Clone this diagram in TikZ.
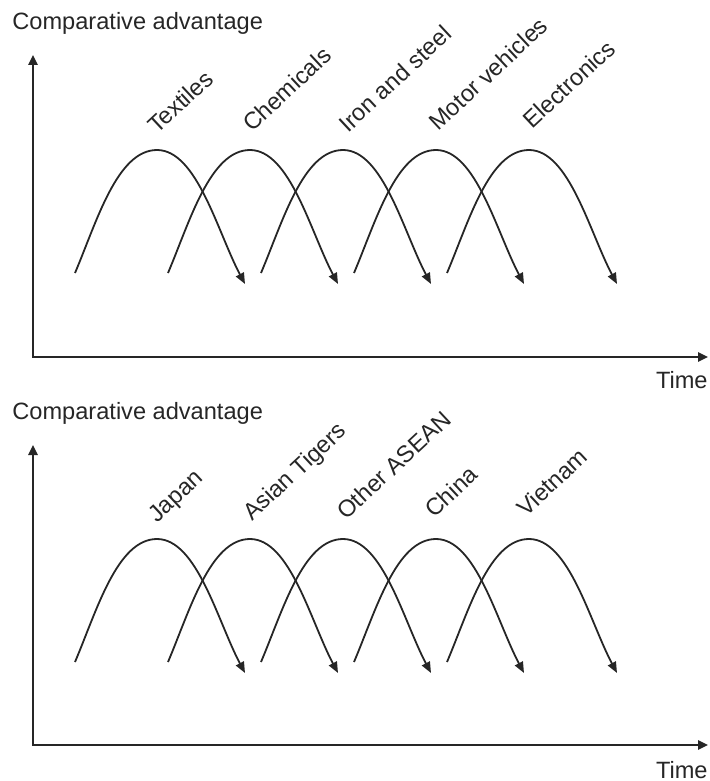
\documentclass[tikz,border=0pt]{standalone}
\usepackage{fontspec}
\setmainfont{Liberation Sans}
\usepackage{tikz}
\usetikzlibrary{arrows.meta, calc, positioning}
\usepackage{xcolor}
\definecolor{inkgray}{HTML}{262626}
\tikzset{>={Triangle[length=5pt,width=4.6pt]}}
\tikzset{
	axis/.style={line width=1pt, inkgray},
	wave/.style={line width=0.9pt, inkgray, -{Triangle[length=5.5pt,width=4.4pt]}},
	sector/.style={rotate=43, anchor=base west, inner sep=0pt, text=inkgray},
	caption/.style={inner sep=0pt, text=inkgray}
}

\begin{document}
\begin{tikzpicture}[x=0.5pt, y=0.5pt, font=\fontsize{11.8}{13}\selectfont]
	\useasboundingbox (0,0) rectangle (709,-781);
	% upper panel: industries
	\node[caption, anchor=base west] (cavtop) at (12,-30) {Comparative advantage};
	\draw [axis, <->] (33,-55) -- (33,-357) -- (708,-357);
	\node[caption, anchor=base east] (timetop) at (708,-388) {Time};
	\draw [wave] (75,-273) .. controls +(67:55) and +(-40,0) .. (157,-150) .. controls +(40,0) and +(118:58) .. (245,-284);
	\draw [wave] (168,-273) .. controls +(67:55) and +(-40,0) .. (250,-150) .. controls +(40,0) and +(118:58) .. (338,-284);
	\draw [wave] (261,-273) .. controls +(67:55) and +(-40,0) .. (343,-150) .. controls +(40,0) and +(118:58) .. (431,-284);
	\draw [wave] (354,-273) .. controls +(67:55) and +(-40,0) .. (436,-150) .. controls +(40,0) and +(118:58) .. (524,-284);
	\draw [wave] (447,-273) .. controls +(67:55) and +(-40,0) .. (529,-150) .. controls +(40,0) and +(118:58) .. (617,-284);
	\node[sector] (textiles) at (157,-135) {Textiles};
	\node[sector] (chemicals) at (252,-133) {Chemicals};
	\node[sector] (ironsteel) at (348,-134) {Iron and steel};
	\node[sector] (motor) at (438,-132) {Motor vehicles};
	\node[sector] (electronics) at (532,-130) {Electronics};
	% lower panel: economies
	\node[caption, anchor=base west] (cavbottom) at (12,-419) {Comparative advantage};
	\draw [axis, <->] (33,-445) -- (33,-745) -- (708,-745);
	\node[caption, anchor=base east] (timebottom) at (708,-778) {Time};
	\draw [wave] (75,-662) .. controls +(67:55) and +(-40,0) .. (157,-539) .. controls +(40,0) and +(118:58) .. (245,-673);
	\draw [wave] (168,-662) .. controls +(67:55) and +(-40,0) .. (250,-539) .. controls +(40,0) and +(118:58) .. (338,-673);
	\draw [wave] (261,-662) .. controls +(67:55) and +(-40,0) .. (343,-539) .. controls +(40,0) and +(118:58) .. (431,-673);
	\draw [wave] (354,-662) .. controls +(67:55) and +(-40,0) .. (436,-539) .. controls +(40,0) and +(118:58) .. (524,-673);
	\draw [wave] (447,-662) .. controls +(67:55) and +(-40,0) .. (529,-539) .. controls +(40,0) and +(118:58) .. (617,-673);
	\node[sector] (japan) at (157,-524) {Japan};
	\node[sector] (tigers) at (252,-522) {Asian Tigers};
	\node[sector] (asean) at (346,-521) {Other ASEAN};
	\node[sector] (china) at (434,-519) {China};
	\node[sector] (vietnam) at (526,-518) {Vietnam};
\end{tikzpicture}
\end{document}
